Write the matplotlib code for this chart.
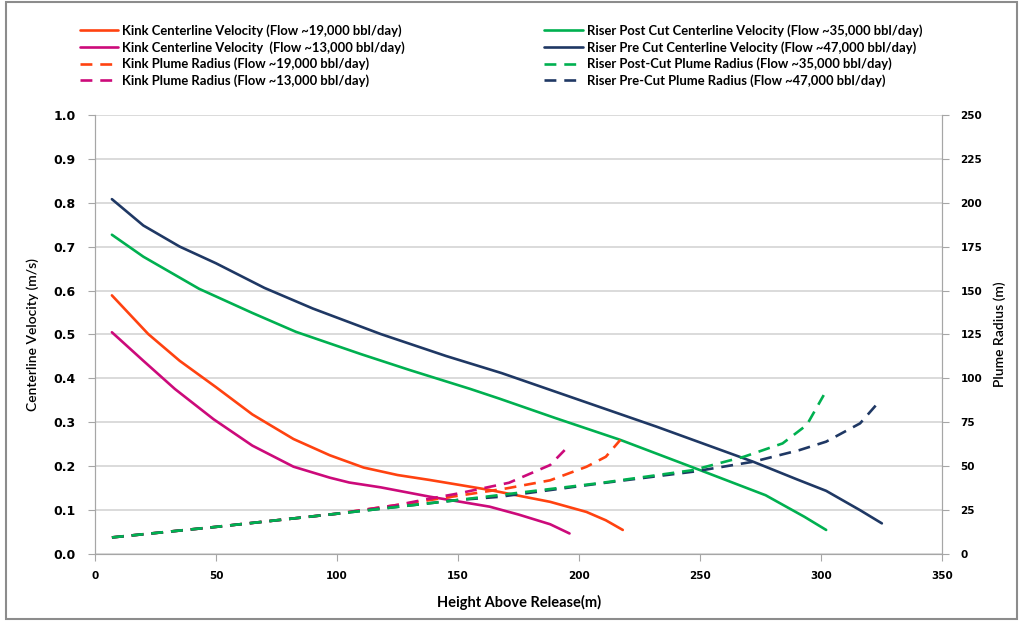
import matplotlib
matplotlib.use("Agg")
import matplotlib.pyplot as plt
from matplotlib.patches import Rectangle

# centerline velocity (m/s) vs height above release (m)
h_riser_pre = [7, 20, 35, 50, 70, 90, 118, 145, 168, 200, 232, 250, 272, 290, 302, 316, 325]
v_riser_pre = [0.808, 0.748, 0.700, 0.662, 0.606, 0.559, 0.501, 0.451, 0.412, 0.351, 0.29, 0.254, 0.21, 0.17, 0.144, 0.10, 0.07]

h_riser_post = [7, 20, 43, 65, 83, 110, 130, 155, 167, 190, 217, 250, 277, 293, 302]
v_riser_post = [0.727, 0.677, 0.604, 0.549, 0.506, 0.455, 0.419, 0.376, 0.354, 0.31, 0.26, 0.191, 0.134, 0.085, 0.055]

h_kink19 = [7, 22, 35, 50, 65, 82, 97, 111, 125, 138, 150, 163, 175, 188, 203, 211, 218]
v_kink19 = [0.589, 0.501, 0.44, 0.38, 0.318, 0.262, 0.225, 0.197, 0.18, 0.169, 0.158, 0.146, 0.133, 0.119, 0.096, 0.077, 0.055]

h_kink13 = [7, 20, 33, 49, 65, 82, 97, 105, 118, 138, 150, 163, 175, 188, 196]
v_kink13 = [0.505, 0.44, 0.376, 0.307, 0.247, 0.199, 0.174, 0.163, 0.152, 0.131, 0.12, 0.108, 0.09, 0.068, 0.047]

# plume radius (m)
hr_riser_pre = [7, 50, 100, 150, 167, 209, 247, 272, 291, 302, 316, 323]
r_riser_pre = [9.5, 15.5, 23, 30.8, 32.6, 40.3, 46.9, 52.6, 59.2, 64, 74.4, 85.4]

hr_riser_post = [7, 50, 100, 150, 209, 247, 268, 284, 294, 301]
r_riser_post = [9.5, 15.5, 23, 30.8, 40.5, 47.8, 55.4, 63, 73.5, 90.5]

hr_kink19 = [7, 50, 100, 125, 150, 170, 188, 203, 211, 217]
r_kink19 = [9.5, 15.5, 23, 28, 33.2, 37.4, 42, 49.7, 55.4, 65]

hr_kink13 = [7, 50, 100, 125, 138, 150, 171, 188, 194]
r_kink13 = [9.5, 15.5, 23, 28, 31.5, 34.5, 40.6, 50.7, 59.2]

orange = "#ff4210"
magenta = "#cc0a7a"
green = "#00b050"
navy = "#1f3864"
lw = 1.9
dash = (0, (4.5, 3))

fig = plt.figure(figsize=(10.21, 6.24), dpi=100)
ax = fig.add_axes([0.093, 0.112, 0.830, 0.704])
ax2 = ax.twinx()

style = dict(lw=lw, solid_joinstyle="round", solid_capstyle="round")
l1, = ax.plot(h_kink19, v_kink19, color=orange, **style)
l2, = ax.plot(h_kink13, v_kink13, color=magenta, **style)
l5, = ax.plot(h_riser_post, v_riser_post, color=green, **style)
l6, = ax.plot(h_riser_pre, v_riser_pre, color=navy, **style)

l3, = ax2.plot(hr_kink19, r_kink19, color=orange, lw=lw, linestyle=dash)
l4, = ax2.plot(hr_kink13, r_kink13, color=magenta, lw=lw, linestyle=dash)
l8, = ax2.plot(hr_riser_pre, r_riser_pre, color=navy, lw=lw, linestyle=dash)
l7, = ax2.plot(hr_riser_post, r_riser_post, color=green, lw=lw, linestyle=dash)

ax.set_xlim(0, 350)
ax.set_ylim(0, 1.0)
ax2.set_ylim(0, 250)
ax.set_xticks(range(0, 351, 50))
ax.set_yticks([i / 10 for i in range(11)])
ax.set_yticklabels([f"{i / 10:.1f}" for i in range(11)])
ax2.set_yticks(range(0, 251, 25))

ax.grid(axis="y", color="#d4d4d4", lw=1.2)
ax.set_axisbelow(True)
for a in (ax, ax2):
    a.spines["top"].set_visible(False)
    for s in ("left", "right", "bottom"):
        a.spines[s].set_color("#a6a6a6")
ax.spines["bottom"].set_color("#d4d4d4")

ax.tick_params(axis="x", direction="out", length=5, color="#a6a6a6", labelsize=7.5, pad=7)
ax.tick_params(axis="y", direction="out", length=5, color="#a6a6a6", labelsize=9, pad=9)
ax2.tick_params(axis="y", direction="out", length=5, color="#a6a6a6", labelsize=7.5, pad=8)
for t in ax.get_xticklabels() + ax.get_yticklabels() + ax2.get_yticklabels():
    t.set_fontweight("bold")

lab_font = ["Lato", "DejaVu Sans"]
ax.set_xlabel("Height Above Release(m)", fontsize=10.5, fontweight="bold", family=lab_font, labelpad=10)
ax.set_ylabel("Centerline Velocity (m/s)", fontsize=10, fontweight="semibold", family=lab_font, labelpad=10)
ax2.set_ylabel("Plume Radius (m)", fontsize=10, fontweight="semibold", family=lab_font, labelpad=8)

leg_font = {"family": lab_font, "weight": "bold", "size": 9.4}
fig.legend([l1, l2, l3, l4],
           ["Kink Centerline Velocity (Flow ~19,000 bbl/day)",
            "Kink Centerline Velocity  (Flow ~13,000 bbl/day)",
            "Kink Plume Radius (Flow ~19,000 bbl/day)",
            "Kink Plume Radius (Flow ~13,000 bbl/day)"],
           loc="upper left", bbox_to_anchor=(0.078, 0.961), frameon=False, prop=leg_font,
           handlelength=2.95, handletextpad=0.3, labelspacing=0.3, borderpad=0, borderaxespad=0)
fig.legend([l5, l6, l7, l8],
           ["Riser Post Cut Centerline Velocity (Flow ~35,000 bbl/day)",
            "Riser Pre Cut Centerline Velocity (Flow ~47,000 bbl/day)",
            "Riser Post-Cut Plume Radius (Flow ~35,000 bbl/day)",
            "Riser Pre-Cut Plume Radius (Flow ~47,000 bbl/day)"],
           loc="upper left", bbox_to_anchor=(0.533, 0.961), frameon=False, prop=leg_font,
           handlelength=2.95, handletextpad=0.3, labelspacing=0.3, borderpad=0, borderaxespad=0)

fig.patches.append(Rectangle((0.006, 0.008), 0.99, 0.989, transform=fig.transFigure,
                             fill=False, edgecolor="#8c8c8c", lw=1.5))

fig.savefig("out.png", dpi=100)
